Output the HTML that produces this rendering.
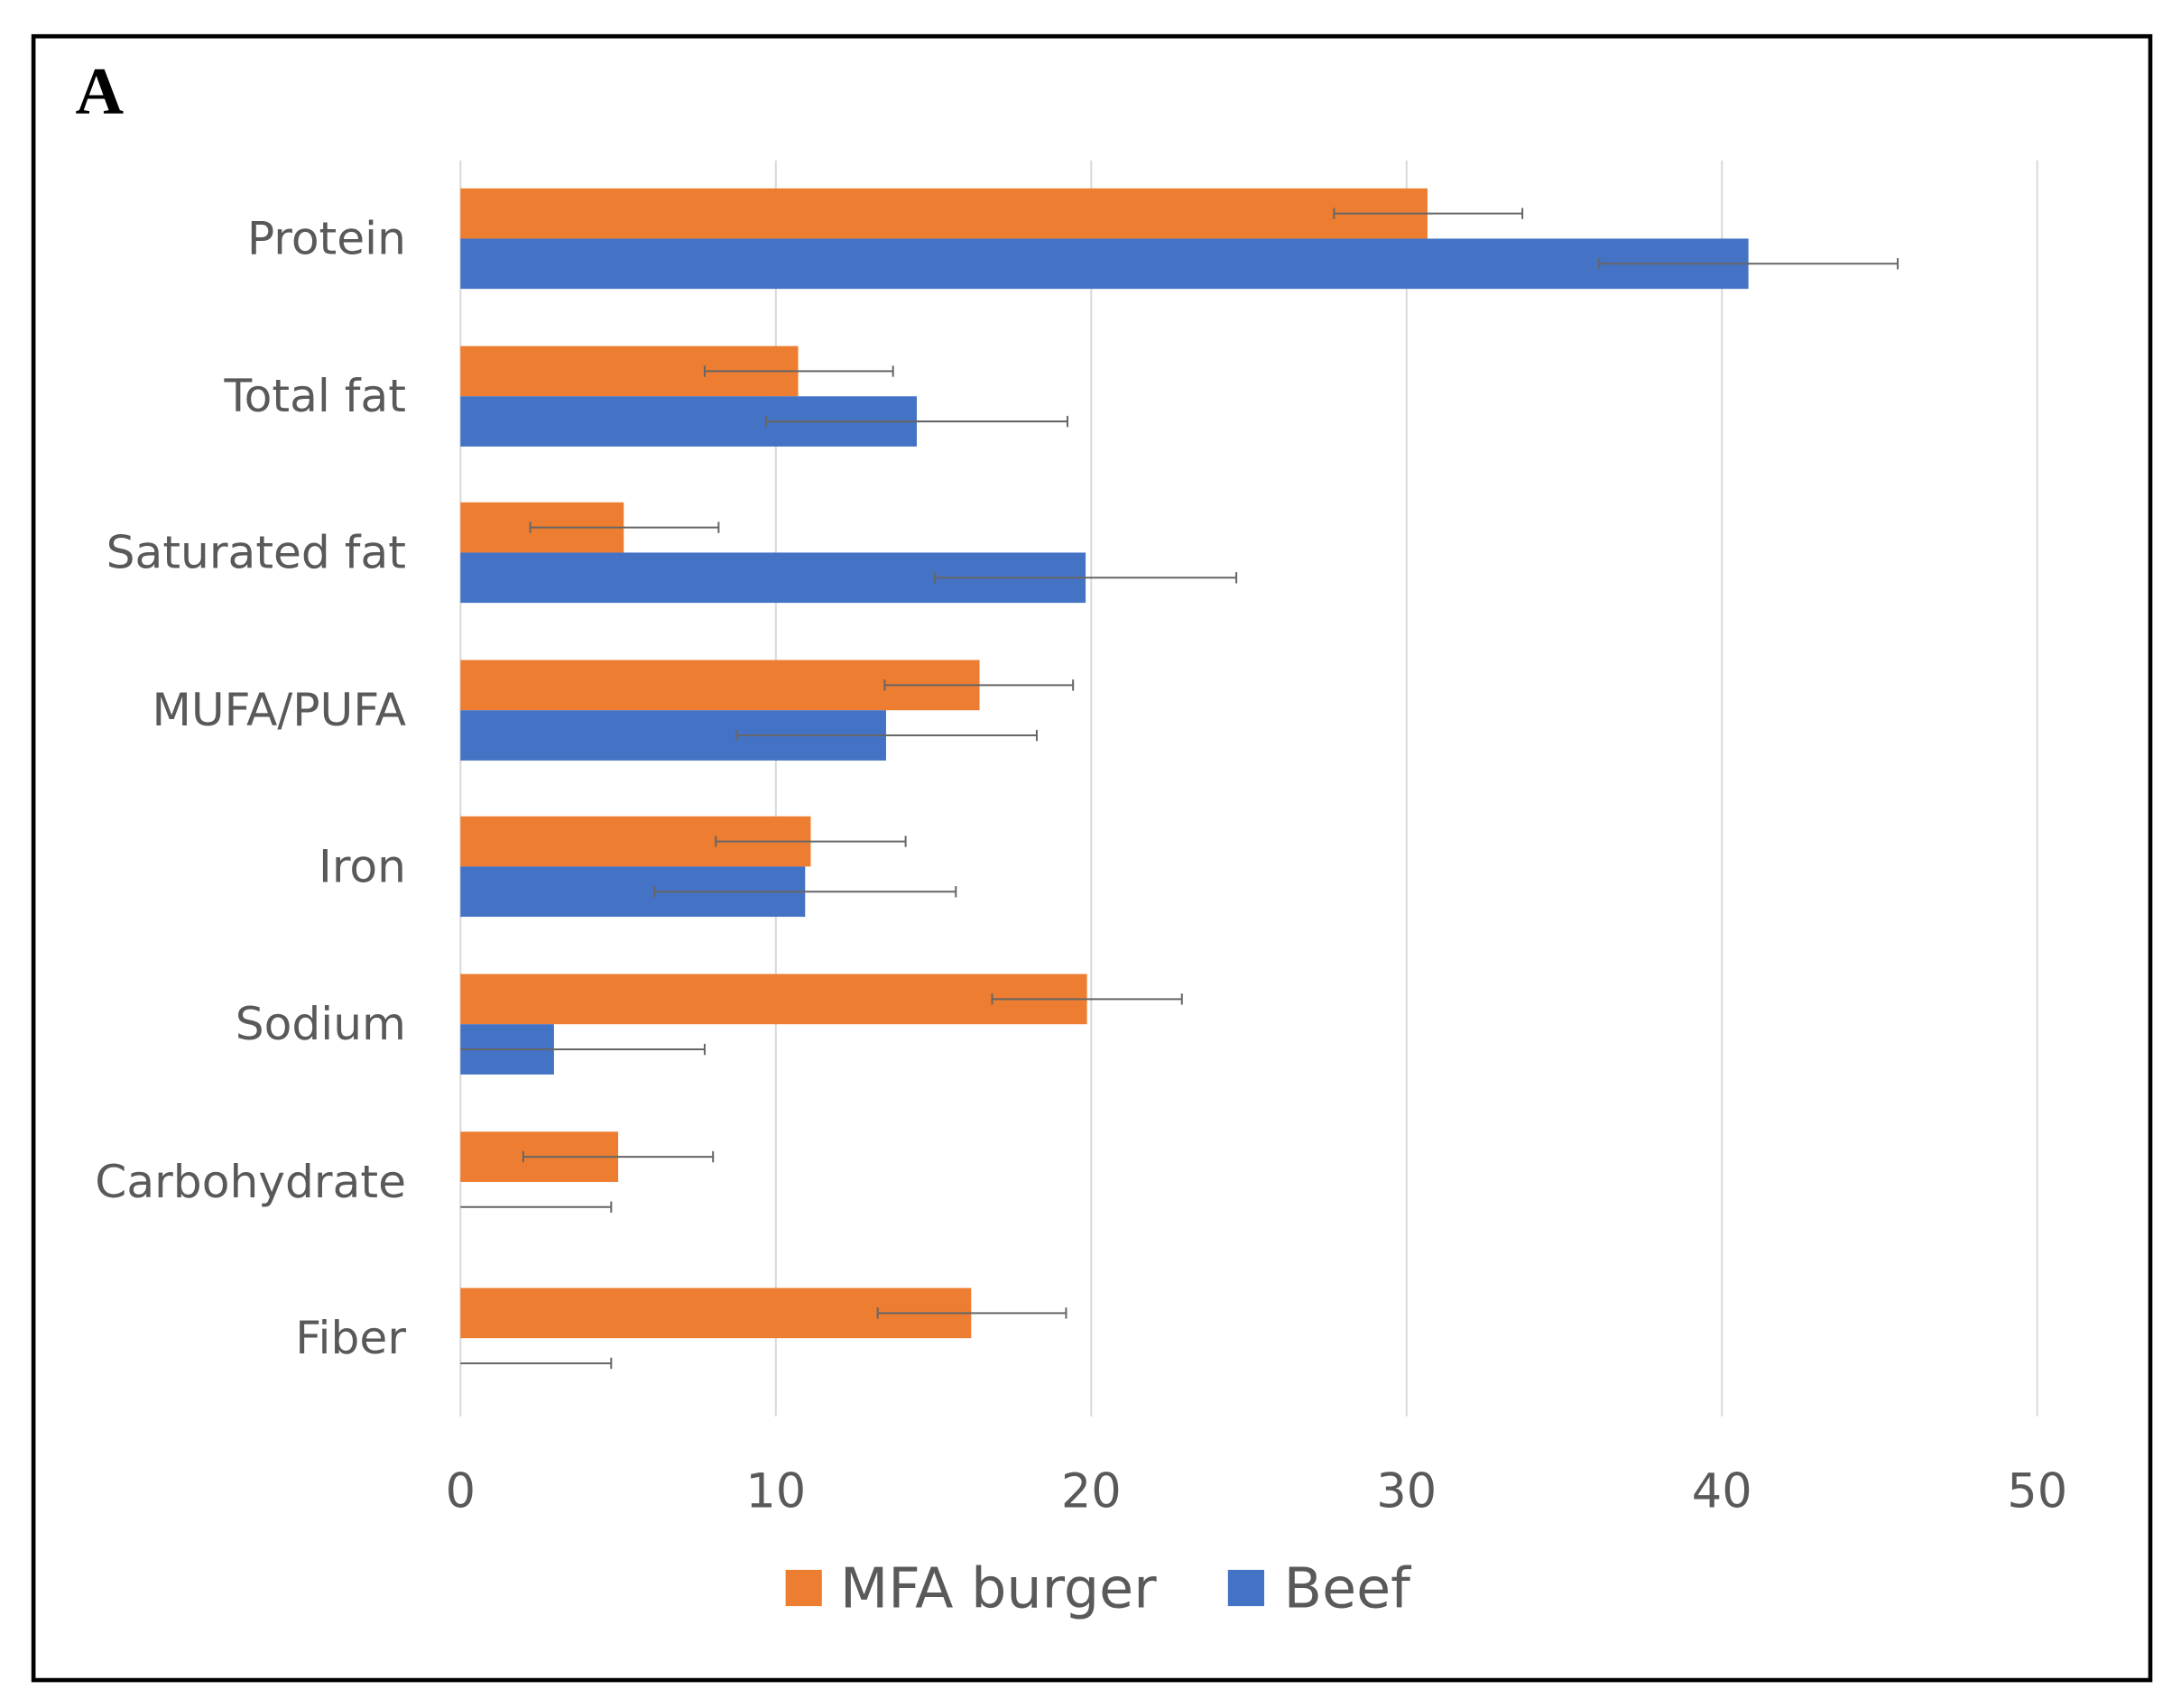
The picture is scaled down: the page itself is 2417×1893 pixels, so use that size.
<!DOCTYPE html>
<html><head><meta charset="utf-8"><style>
html,body{margin:0;padding:0;background:#fff;}
svg{display:block;}
text{font-family:"DejaVu Sans","Liberation Sans",sans-serif;fill:#595959;}
</style></head><body>
<svg width="2417" height="1893" viewBox="0 0 1563 1224" preserveAspectRatio="none" xmlns="http://www.w3.org/2000/svg">
<rect x="0" y="0" width="1563" height="1224" fill="#fff"/>
<rect x="24" y="26" width="1517" height="1178" fill="none" stroke="#000" stroke-width="3"/>
<text x="54" y="81" style="font-family:'Liberation Serif',serif;font-weight:bold;font-size:48px;fill:#000">A</text>
<g stroke="#d9d9d9" stroke-width="1.3">
<line x1="556" y1="115" x2="556" y2="1015"/><line x1="782" y1="115" x2="782" y2="1015"/>
<line x1="1008" y1="115" x2="1008" y2="1015"/><line x1="1234" y1="115" x2="1234" y2="1015"/>
<line x1="1460" y1="115" x2="1460" y2="1015"/><line x1="330" y1="115" x2="330" y2="1015"/>
</g>
<g fill="#ED7D31">
<rect x="330" y="135" width="693" height="36"/>
<rect x="330" y="248" width="242" height="36"/>
<rect x="330" y="360" width="117" height="36"/>
<rect x="330" y="473" width="372" height="36"/>
<rect x="330" y="585" width="251" height="36"/>
<rect x="330" y="698" width="449" height="36"/>
<rect x="330" y="811" width="113" height="36"/>
<rect x="330" y="923" width="366" height="36"/>
</g>
<g fill="#4472C4">
<rect x="330" y="171" width="923" height="36"/>
<rect x="330" y="284" width="327" height="36"/>
<rect x="330" y="396" width="448" height="36"/>
<rect x="330" y="509" width="305" height="36"/>
<rect x="330" y="621" width="247" height="36"/>
<rect x="330" y="734" width="67" height="36"/>
</g>
<g stroke="#666" stroke-width="1.3" fill="none">
<path d="M956 153H1091M956 149V157M1091 149V157"/>
<path d="M1146 189H1360M1146 185V193M1360 185V193"/>
<path d="M505 266H640M505 262V270M640 262V270"/>
<path d="M549 302H765M549 298V306M765 298V306"/>
<path d="M380 378H515M380 374V382M515 374V382"/>
<path d="M670 414H886M670 410V418M886 410V418"/>
<path d="M634 491H769M634 487V495M769 487V495"/>
<path d="M528 527H743M528 523V531M743 523V531"/>
<path d="M513 603H649M513 599V607M649 599V607"/>
<path d="M469 639H685M469 635V643M685 635V643"/>
<path d="M711 716H847M711 712V720M847 712V720"/>
<path d="M330 752H505M505 748V756"/>
<path d="M375 829H511M375 825V833M511 825V833"/>
<path d="M330 865H438M438 861V869"/>
<path d="M629 941H764M629 937V945M764 937V945"/>
<path d="M330 977H438M438 973V981"/>
</g>
<g font-size="32.5" text-anchor="end">
<text x="291" y="182">Protein</text><text x="291" y="295">Total fat</text>
<text x="291" y="407">Saturated fat</text><text x="291" y="520">MUFA/PUFA</text>
<text x="291" y="632">Iron</text><text x="291" y="745">Sodium</text>
<text x="291" y="858">Carbohydrate</text><text x="291" y="970">Fiber</text>
</g>
<g font-size="34" text-anchor="middle">
<text x="330" y="1080">0</text><text x="556" y="1080">10</text><text x="782" y="1080">20</text>
<text x="1008" y="1080">30</text><text x="1234" y="1080">40</text><text x="1460" y="1080">50</text>
</g>
<rect x="563" y="1125" width="26" height="26" fill="#ED7D31"/>
<text x="602" y="1152" font-size="40">MFA burger</text>
<rect x="880" y="1125" width="26" height="26" fill="#4472C4"/>
<text x="920" y="1152" font-size="40">Beef</text>
</svg>
</body></html>
